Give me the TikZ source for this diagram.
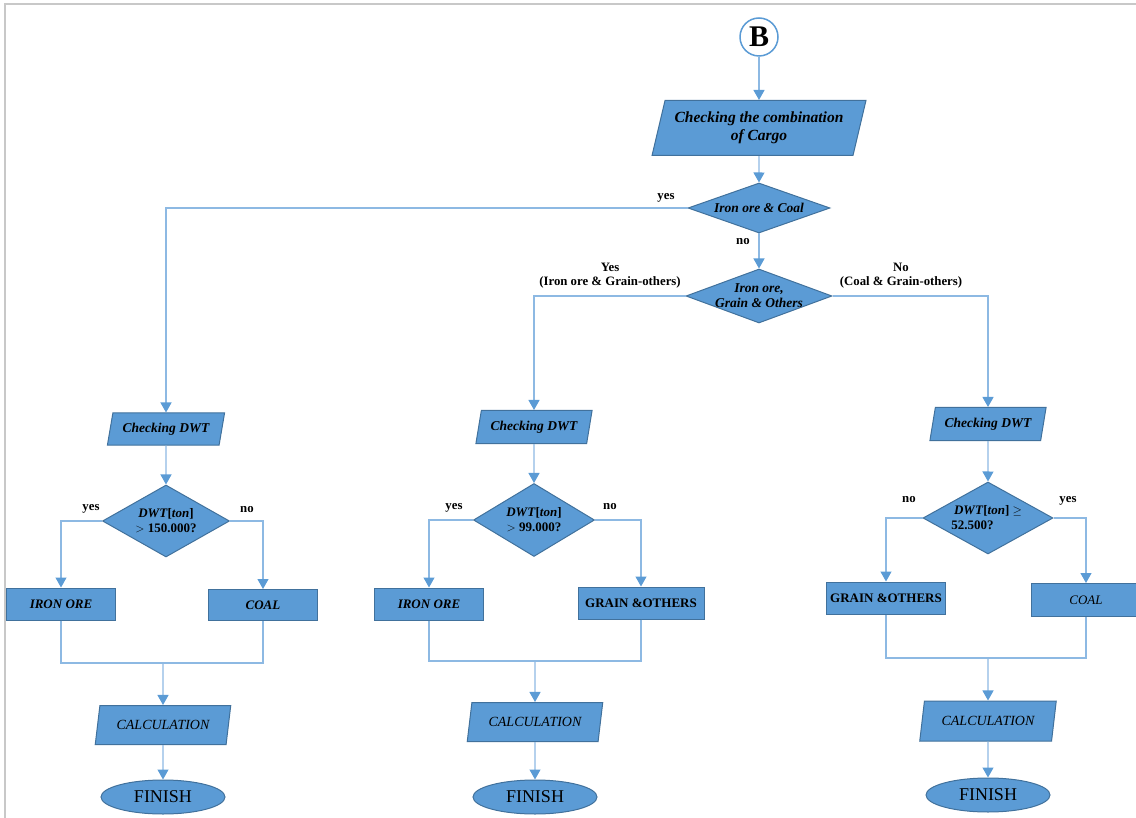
\documentclass[tikz,border=0pt]{standalone}
\usepackage{fontspec}
\setmainfont{Liberation Serif}
\usetikzlibrary{shapes.geometric,arrows.meta}
\definecolor{boxfill}{HTML}{5B9BD5}
\definecolor{boxedge}{HTML}{41719C}
\definecolor{linkc}{HTML}{8DB9E3}
\definecolor{tipc}{HTML}{5B9BD5}
\definecolor{framec}{HTML}{C8C8C8}
\tikzset{
  base/.style={fill=boxfill, draw=boxedge, line width=1pt, inner sep=0pt, align=center},
  io/.style={base, trapezium, trapezium left angle=70, trapezium right angle=110,
             trapezium stretches=true},
  proc/.style={base, rectangle},
  cond/.style={base, diamond, aspect=2},
  term/.style={base, ellipse},
  lab/.style={font=\bfseries\fontsize{12.8}{14}\selectfont, align=center, inner sep=0pt},
  link/.style={draw=linkc, line width=1.2pt},
  arr/.style={link, -{Triangle[length=10pt,width=11pt,color=tipc]}},
}
\begin{document}
\begin{tikzpicture}[x=1pt,y=-1pt]
\useasboundingbox (0,0) rectangle (1136,818);
\begin{scope}
\clip (0,0) rectangle (1136,818);
% page frame
\draw[framec, line width=2pt] (5,818) -- (5,4) -- (1136,4);

% start connector and first checks
\node[circle, draw=boxfill, fill=white, line width=1.5pt, minimum size=38pt, inner sep=0pt,
      font=\bfseries\fontsize{30}{30}\selectfont] (B) at (759,37) {B};
\node[io, minimum width=214pt, minimum height=55pt, font=\bfseries\itshape\fontsize{15.5}{18}\selectfont] (comb) at (759,128)
  {Checking the combination\\ of Cargo};
\node[cond, inner xsep=-6pt, inner ysep=-4pt, minimum width=142pt, minimum height=50pt, font=\bfseries\itshape\fontsize{13.5}{15}\selectfont] (d1) at (759,208) {Iron ore \& Coal};
\node[cond, inner xsep=-8pt, inner ysep=-5pt, minimum width=146pt, minimum height=54pt, font=\bfseries\itshape\fontsize{13.5}{15}\selectfont] (d2) at (759,296) {Iron ore,\\ Grain \& Others};

% left column
\node[io, minimum width=118pt, minimum height=32pt, font=\bfseries\itshape\fontsize{13.5}{15}\selectfont] (cL) at (166,429) {Checking DWT};
\node[cond, minimum width=127pt, minimum height=72pt, font=\bfseries\fontsize{13}{15}\selectfont] (dL) at (166,521) {\textit{DWT}[\textit{ton}]\\ $>$ 150.000?};
\node[proc, minimum width=109pt, minimum height=32pt, font=\bfseries\itshape\fontsize{13}{15}\selectfont] (ironL) at (61,604) {IRON ORE};
\node[proc, minimum width=109pt, minimum height=31pt, font=\bfseries\itshape\fontsize{13}{15}\selectfont] (coalL) at (263,605) {COAL};
\node[io, minimum width=136pt, minimum height=39pt, font=\itshape\fontsize{14}{16}\selectfont] (calcL) at (163,725) {CALCULATION};
\node[term, minimum width=124pt, minimum height=34pt, font=\fontsize{18}{18}\selectfont] (finL) at (163,797) {FINISH};

% middle column
\node[io, minimum width=117pt, minimum height=33pt, font=\bfseries\itshape\fontsize{13.5}{15}\selectfont] (cM) at (534,427) {Checking DWT};
\node[cond, minimum width=121pt, minimum height=73pt, font=\bfseries\fontsize{13}{15}\selectfont] (dM) at (534,520) {\textit{DWT}[\textit{ton}]\\ $>$ 99.000?};
\node[proc, minimum width=109pt, minimum height=32pt, font=\bfseries\itshape\fontsize{13}{15}\selectfont] (ironM) at (429,604) {IRON ORE};
\node[proc, minimum width=126pt, minimum height=32pt, font=\bfseries\fontsize{13}{15}\selectfont] (grainM) at (641,603) {GRAIN \&OTHERS};
\node[io, minimum width=136pt, minimum height=39pt, font=\itshape\fontsize{14}{16}\selectfont] (calcM) at (535,722) {CALCULATION};
\node[term, minimum width=124pt, minimum height=34pt, font=\fontsize{18}{18}\selectfont] (finM) at (535,797) {FINISH};

% right column
\node[io, minimum width=117pt, minimum height=33pt, font=\bfseries\itshape\fontsize{13.5}{15}\selectfont] (cR) at (988,424) {Checking DWT};
\node[cond, minimum width=130pt, minimum height=72pt, font=\bfseries\fontsize{13}{15}\selectfont] (dR) at (988,518) {\textit{DWT}[\textit{ton}] $\geq$\\ 52.500?\hspace*{2.4em}};
\node[proc, minimum width=119pt, minimum height=32pt, font=\bfseries\fontsize{13}{15}\selectfont] (grainR) at (886,598) {GRAIN \&OTHERS};
\node[proc, minimum width=109pt, minimum height=33pt, font=\itshape\fontsize{13}{15}\selectfont] (coalR) at (1086,600) {COAL};
\node[io, minimum width=137pt, minimum height=40pt, font=\itshape\fontsize{14}{16}\selectfont] (calcR) at (988,721) {CALCULATION};
\node[term, minimum width=124pt, minimum height=34pt, font=\fontsize{18}{18}\selectfont] (finR) at (988,795) {FINISH};

% branch labels
\node[lab] (l1) at (666,198) {yes};
\node[lab] (l2) at (743,242) {no};
\node[lab] (l3) at (610,276) {Yes\\ (Iron ore \& Grain-others)};
\node[lab] (l4) at (901,276) {No\\ (Coal \& Grain-others)};
\node[lab] (l5) at (91,509) {yes};
\node[lab] (l6) at (247,510) {no};
\node[lab] (l7) at (454,508) {yes};
\node[lab] (l8) at (610,507) {no};
\node[lab] (l9) at (909,500) {no};
\node[lab] (l10) at (1068,501) {yes};

% junction points under each pair of result boxes
\coordinate (jL) at (163,663);
\coordinate (jM) at (535,661);
\coordinate (jR) at (988,658);

% connectors: top part
\draw[arr] (B) -- (comb);
\draw[arr] (comb) -- (d1);
\draw[arr] (d1) -- (d2);
\draw[arr] (d1.west) -| (cL.north);
\draw[arr] (d2.west) -| (cM.north);
\draw[arr] (d2.east) -| (cR.north);

% connectors: left column
\draw[arr] (cL) -- (dL);
\draw[arr] (dL.west) -| (ironL.north);
\draw[arr] (dL.east) -| (coalL.north);
\draw[link] (ironL.south) |- (jL);
\draw[link] (coalL.south) |- (jL);
\draw[arr] (jL) -- (calcL.north);
\draw[arr] (calcL) -- (finL);

% connectors: middle column
\draw[arr] (cM) -- (dM);
\draw[arr] (dM.west) -| (ironM.north);
\draw[arr] (dM.east) -| (grainM.north);
\draw[link] (ironM.south) |- (jM);
\draw[link] (grainM.south) |- (jM);
\draw[arr] (jM) -- (calcM.north);
\draw[arr] (calcM) -- (finM);

% connectors: right column
\draw[arr] (cR) -- (dR);
\draw[arr] (dR.west) -| (grainR.north);
\draw[arr] (dR.east) -| (coalR.north);
\draw[link] (grainR.south) |- (jR);
\draw[link] (coalR.south) |- (jR);
\draw[arr] (jR) -- (calcR.north);
\draw[arr] (calcR) -- (finR);
\end{scope}
\end{tikzpicture}
\end{document}
